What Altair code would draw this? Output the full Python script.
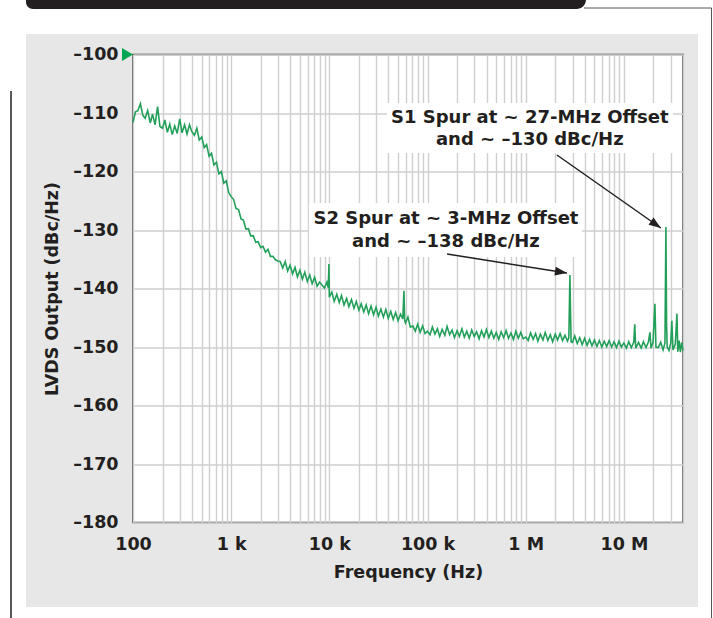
import altair as alt
import pandas as pd

# ---------------- data ----------------
freq_hz = [
    # 100 Hz - 1 kHz
    100, 106, 112, 119, 126, 133, 141, 150, 158, 168, 178, 188, 200, 211, 224, 237, 251, 266, 282, 299,
    316, 335, 355, 376, 398, 422, 447, 473, 501, 531, 562, 596, 631, 668, 708, 750, 794, 841, 891, 944,
    # 1 kHz - 10 kHz
    1000, 1060, 1120, 1190, 1260, 1330, 1410, 1500, 1580, 1680, 1780, 1880, 2000, 2110, 2240, 2370, 2510, 2660, 2820, 2990,
    3160, 3350, 3550, 3760, 3980, 4220, 4470, 4730, 5010, 5310, 5620, 5960, 6310, 6680, 7080, 7500, 7940, 8410, 8910, 9440,
    9750, 9900,
    # 10 kHz - 100 kHz
    10000, 10600, 11200, 11900, 12600, 13300, 14100, 15000, 15800, 16800, 17800, 18800, 20000, 21100, 22400, 23700, 25100, 26600, 28200, 29900,
    31600, 33500, 35500, 37600, 39800, 42200, 44700, 47300, 50100, 53100, 56000, 57500, 58500, 59600, 63100, 66800, 70800, 75000, 79400, 84100,
    89100, 94400,
    # 100 kHz - 1 MHz
    100000, 106000, 112000, 119000, 126000, 133000, 141000, 150000, 158000, 168000, 178000, 188000, 200000, 211000, 224000, 237000, 251000, 266000, 282000, 299000,
    316000, 335000, 355000, 376000, 398000, 422000, 447000, 473000, 501000, 531000, 562000, 596000, 631000, 668000, 708000, 750000, 794000, 841000, 891000, 944000,
    # 1 MHz - 10 MHz
    1.00e6, 1.06e6, 1.12e6, 1.19e6, 1.26e6, 1.33e6, 1.41e6, 1.50e6, 1.58e6, 1.68e6, 1.78e6, 1.88e6, 2.00e6, 2.11e6, 2.24e6, 2.37e6, 2.51e6, 2.66e6, 2.75e6, 2.82e6,
    2.86e6, 2.90e6, 2.99e6, 3.16e6, 3.35e6, 3.55e6, 3.76e6, 3.98e6, 4.22e6, 4.47e6, 4.73e6, 5.01e6, 5.31e6, 5.62e6, 5.96e6, 6.31e6, 6.68e6, 7.08e6, 7.50e6, 7.94e6,
    8.41e6, 8.91e6, 9.44e6,
    # 10 MHz - 40 MHz
    10.0e6, 10.6e6, 11.2e6, 11.9e6, 12.6e6, 12.9e6, 13.2e6, 14.1e6, 15.0e6, 15.8e6, 16.8e6, 17.8e6, 18.4e6, 18.9e6, 19.8e6, 20.7e6, 21.2e6, 22.4e6, 23.7e6, 25.1e6,
    26.2e6, 26.8e6, 27.2e6, 27.6e6, 28.8e6, 30.0e6, 30.8e6, 31.6e6, 33.4e6, 34.7e6, 35.4e6, 36.5e6, 37.6e6, 38.8e6, 40.0e6,
]

level_dbc = [
    # 100 Hz - 1 kHz
    -111.6, -109.8, -109.6, -108.4, -110.4, -110.9, -109.6, -111.7, -110.2, -112.0, -108.9, -112.3, -112.6, -111.2, -113.3, -111.9, -113.7, -112.2, -113.5, -111.0,
    -113.4, -112.0, -113.6, -112.0, -113.2, -113.8, -112.6, -114.6, -114.1, -115.9, -115.4, -117.4, -116.9, -118.9, -118.4, -120.4, -120.0, -122.0, -121.6, -123.6,
    # 1 kHz - 10 kHz
    -124.3, -124.8, -126.3, -126.5, -128.1, -128.3, -129.8, -129.8, -131.0, -131.0, -132.1, -132.0, -133.0, -132.8, -133.8, -133.3, -134.5, -134.5, -135.1, -135.3,
    -135.4, -136.5, -135.4, -137.0, -136.0, -137.5, -136.4, -138.0, -136.9, -138.4, -137.2, -138.8, -137.7, -139.2, -138.1, -139.6, -138.9, -139.4, -139.9, -138.9,
    -139.9, -135.8,
    # 10 kHz - 100 kHz
    -141.5, -140.6, -142.2, -141.0, -142.4, -141.2, -142.8, -141.7, -143.1, -141.9, -143.4, -142.2, -143.7, -142.6, -144.0, -142.8, -144.3, -143.0, -144.5, -143.2,
    -144.7, -143.5, -144.9, -143.6, -145.1, -143.9, -145.3, -144.1, -145.5, -144.4, -145.2, -140.4, -145.5, -145.9, -144.9, -146.6, -146.4, -147.3, -146.1, -147.5,
    -146.4, -147.7,
    # 100 kHz - 1 MHz
    -147.3, -147.9, -146.6, -147.8, -146.9, -148.2, -147.0, -148.0, -146.5, -147.9, -147.1, -148.4, -147.2, -148.2, -146.9, -148.3, -147.3, -148.5, -147.1, -148.2,
    -147.4, -148.6, -147.2, -148.3, -147.0, -148.4, -147.3, -148.5, -147.5, -148.7, -147.4, -148.4, -147.2, -148.5, -147.6, -148.7, -147.3, -148.5, -147.5, -148.6,
    # 1 MHz - 10 MHz
    -148.3, -148.9, -147.6, -148.7, -147.7, -149.0, -147.8, -148.8, -147.5, -148.9, -147.9, -149.1, -147.8, -148.8, -147.7, -148.9, -148.0, -149.0, -148.4, -137.7,
    -143.8, -149.1, -149.2, -148.1, -149.4, -148.4, -149.6, -148.5, -149.7, -148.7, -149.8, -148.8, -149.9, -148.9, -150.0, -149.0, -149.9, -148.9, -150.0, -149.1,
    -150.1, -149.0, -150.0,
    # 10 MHz - 40 MHz
    -149.3, -150.2, -149.1, -150.1, -149.2, -146.1, -150.2, -149.2, -150.2, -149.1, -150.1, -149.1, -147.5, -150.2, -149.2, -142.6, -150.0, -150.1, -149.2, -150.5,
    -149.3, -129.5, -146.0, -150.0, -150.6, -149.3, -145.5, -150.5, -149.5, -144.3, -150.8, -148.9, -150.9, -149.2, -150.6,
]

y_tick_values = [-180, -170, -160, -150, -140, -130, -120, -110, -100]
x_grid_values = [
    100, 200, 300, 400, 500, 600, 700, 800, 900,
    1000, 2000, 3000, 4000, 5000, 6000, 7000, 8000, 9000,
    10000, 20000, 30000, 40000, 50000, 60000, 70000, 80000, 90000,
    100000, 200000, 300000, 400000, 500000, 600000, 700000, 800000, 900000,
    1000000, 2000000, 3000000, 4000000, 5000000, 6000000, 7000000, 8000000, 9000000,
    10000000, 20000000, 30000000, 40000000,
]
x_label_values = [100, 1000, 10000, 100000, 1000000, 10000000]
x_label_texts = ["100", "1 k", "10 k", "100 k", "1 M", "10 M"]

# annotations (data coordinates)
note_f = [1.10e6, 1.54e5]
note_line1_v = [-110.85, -128.12]
note_line2_v = [-114.62, -132.05]
note_line1 = ["S1 Spur at ~ 27-MHz Offset", "S2 Spur at ~ 3-MHz Offset"]
note_line2 = ["and ~ \u2013130 dBc/Hz", "and ~ \u2013138 dBc/Hz"]
box_f1 = [3.86e4, 6.19e3]
box_f2 = [3.15e7, 3.73e6]
box_v1 = [-108.29, -125.38]
box_v2 = [-116.84, -134.62]
arrow_f_start = [2.08e6, 1.58e5]
arrow_v_start = [-117.18, -134.10]
arrow_f_tip = [2.38e7, 2.63e6]
arrow_v_tip = [-129.66, -137.35]
arrow_angle = [125, 99]

# ---------------- tables ----------------
curve = pd.DataFrame({"f": freq_hz, "v": level_dbc})
notes1 = pd.DataFrame({"f": note_f, "v": note_line1_v, "t": note_line1})
notes2 = pd.DataFrame({"f": note_f, "v": note_line2_v, "t": note_line2})
boxes = pd.DataFrame({"f": box_f1, "f2": box_f2, "v": box_v1, "v2": box_v2})
arrows = pd.DataFrame({"f": arrow_f_start, "v": arrow_v_start,
                       "f2": arrow_f_tip, "v2": arrow_v_tip})
heads = pd.DataFrame({"f": arrow_f_tip, "v": arrow_v_tip, "a": arrow_angle})

FONT = "DejaVu Sans"
INK = "#231f20"
GREEN = "#22a05a"
GRID = "#cfcfcf"

label_expr = " : ".join(
    f"datum.value == {v} ? '{t}'" for v, t in zip(x_label_values, x_label_texts)
) + " : ''"

x_scale = alt.Scale(type="log", domain=[100, 4e7], nice=False)
y_scale = alt.Scale(domain=[-180, -100], nice=False, zero=False)

x_axis = alt.Axis(
    values=x_grid_values, labelExpr=label_expr, title="Frequency (Hz)",
    grid=True, gridColor=GRID, gridWidth=1.4, ticks=False, tickSize=0, domain=False,
    labelPadding=13, labelFont=FONT, labelFontWeight="bold", labelFontSize=17.5,
    labelColor=INK, labelFlush=False, labelOverlap=False,
    titleFont=FONT, titleFontWeight="bold", titleFontSize=17.5, titleColor=INK,
    titleX=275, titleY=50, titleBaseline="middle", titleAlign="center",
)
y_axis = alt.Axis(
    values=y_tick_values, labelExpr="'\u2013' + format(abs(datum.value), 'd')",
    title="LVDS Output (dBc/Hz)",
    grid=True, gridColor=GRID, gridWidth=1.4, ticks=False, tickSize=0, domain=False,
    labelPadding=15, labelFont=FONT, labelFontWeight="bold", labelFontSize=17.5,
    labelColor=INK, labelFlush=False, labelOverlap=False, labelBaseline="middle",
    titleFont=FONT, titleFontWeight="bold", titleFontSize=17.5, titleColor=INK,
    titleX=-81, titleY=234, titleAngle=270, titleBaseline="middle", titleAlign="center",
)

X = alt.X("f:Q", scale=x_scale, axis=x_axis)
Y = alt.Y("v:Q", scale=y_scale, axis=y_axis)

one = alt.Data(values=[{"k": 0}])


def deco_rect(x, x2, y, y2, color, **kw):
    return alt.Chart(one).mark_rect(color=color, **kw).encode(
        x=alt.value(x), x2=alt.value(x2), y=alt.value(y), y2=alt.value(y2))


def deco_rule(x, x2, y, y2, color, w):
    return alt.Chart(one).mark_rule(color=color, strokeWidth=w).encode(
        x=alt.value(x), x2=alt.value(x2), y=alt.value(y), y2=alt.value(y2))


# page decorations (outside the plot area)
white_left = deco_rect(-133, -107, -54.5, 563.5, "white")
white_right = deco_rect(565, 580, -54.5, 563.5, "white")
white_top = deco_rect(-133, 580, -54.5, -20.5, "white")
white_bottom = deco_rect(-133, 580, 552.5, 563.5, "white")
header = deco_rect(-107, 453, -64.5, -45.5, INK,
                   cornerRadiusBottomLeft=7, cornerRadiusBottomRight=10)
top_line = deco_rule(451, 578.5, -46.5, -46.5, "#555555", 1)
right_line = deco_rule(578.5, 578.5, -46.5, 563.5, "#555555", 1)
left_line = deco_rule(-122, -122, 36.5, 563.5, INK, 1.5)

line = alt.Chart(curve).mark_line(color=GREEN, strokeWidth=1.6).encode(x=X, y=Y)

box_layer = alt.Chart(boxes).mark_rect(color="white").encode(
    x=X, x2="f2:Q", y=Y, y2="v2:Q")

text_style = dict(font=FONT, fontWeight="bold", fontSize=18, color=INK,
                  align="center", baseline="middle")
t1 = alt.Chart(notes1).mark_text(**text_style).encode(x=X, y=Y, text="t:N")
t2 = alt.Chart(notes2).mark_text(**text_style).encode(x=X, y=Y, text="t:N")

arrow_lines = alt.Chart(arrows).mark_rule(color=INK, strokeWidth=1.5).encode(
    x=X, x2="f2:Q", y=Y, y2="v2:Q")
arrow_heads = alt.Chart(heads).mark_point(
    shape="M0,0L0.36,1L-0.36,1Z", filled=True, color=INK, opacity=1,
    size=576, strokeWidth=0).encode(x=X, y=Y, angle=alt.Angle("a:Q", scale=None))

flag = alt.Chart(one).mark_point(
    shape="M0,0L-1,-0.6L-1,0.6Z", filled=True, color="#00a651", opacity=1,
    size=484, strokeWidth=0).encode(x=alt.value(0), y=alt.value(0))

chart = alt.layer(
    white_left, white_right, white_top, white_bottom, header, top_line, right_line, left_line,
    line, box_layer, t1, t2, arrow_lines, arrow_heads, flag,
).properties(
    width=550, height=468,
    autosize=alt.AutoSizeParams(type="none"),
    padding={"left": 133, "top": 54.5, "right": 30, "bottom": 95.5},
    background="#e6e7e6",
).configure_view(fill="white", stroke="#3c3c3c", strokeWidth=1.5)

chart.save("out.html", embed_options={"renderer": "svg", "actions": False})
